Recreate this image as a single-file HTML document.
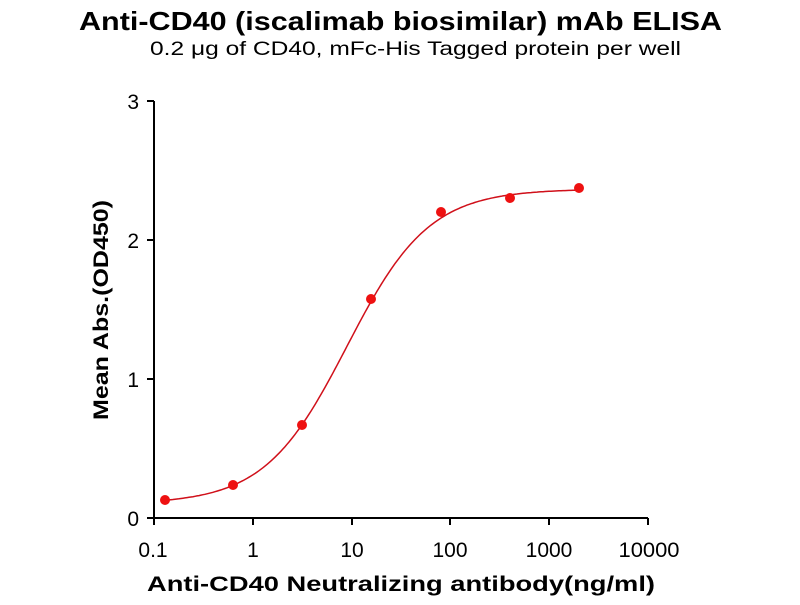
<!DOCTYPE html>
<html><head><meta charset="utf-8"><style>body{margin:0;background:#fff}</style></head>
<body>
<svg id="s" width="800" height="600" xmlns="http://www.w3.org/2000/svg" font-family="Liberation Sans, sans-serif">
<text x="79" y="30" font-size="26" font-weight="bold" textLength="643" lengthAdjust="spacingAndGlyphs">Anti-CD40 (iscalimab biosimilar) mAb ELISA</text>
<text x="150" y="55" font-size="19" textLength="531" lengthAdjust="spacingAndGlyphs">0.2 μg of CD40, mFc-His Tagged protein per well</text>
<g stroke="#000" stroke-width="2" fill="none">
<path d="M154 101 V518 H648"/>
<path d="M147 101H154M147 240H154M147 379H154M147 518H154"/>
<path d="M154 518V525M253 518V525M352 518V525M450 518V525M549 518V525M648 518V525"/>
</g>
<g font-size="21" text-anchor="end">
<text x="139" y="109">3</text><text x="139" y="248">2</text><text x="139" y="387">1</text><text x="139" y="526">0</text>
</g>
<g font-size="21" text-anchor="middle">
<text x="153" y="557">0.1</text><text x="253" y="557">1</text><text x="352" y="557">10</text><text x="450" y="557">100</text><text x="549" y="557">1000</text><text x="649" y="557" textLength="61" lengthAdjust="spacingAndGlyphs">10000</text>
</g>
<text x="147" y="591" font-size="21" font-weight="bold" textLength="508" lengthAdjust="spacingAndGlyphs">Anti-CD40 Neutralizing antibody(ng/ml)</text>
<text transform="translate(108,310) rotate(-90)" x="-110" font-size="21" font-weight="bold" textLength="220" lengthAdjust="spacingAndGlyphs">Mean Abs.(OD450)</text>
<path id="c" fill="none" stroke="#d0101a" stroke-width="1.5" d=""/>
<g fill="#ee1111">
<circle cx="165" cy="500" r="5"/><circle cx="233" cy="485" r="5"/><circle cx="302" cy="425" r="5"/><circle cx="371" cy="299" r="5"/><circle cx="441" cy="212" r="5"/><circle cx="510" cy="198" r="5"/><circle cx="579" cy="188" r="5"/>
</g>
</svg>
<script>
var d="";for(var px=165;px<=579;px+=2){var l=(px-253)/98.8;var f=1/(1+Math.exp(-2.4*(l-0.95)));var y=504-315*f;d+=(d?"L":"M")+px+" "+y.toFixed(1);}
document.getElementById("c").setAttribute("d",d);
</script>
</body></html>
